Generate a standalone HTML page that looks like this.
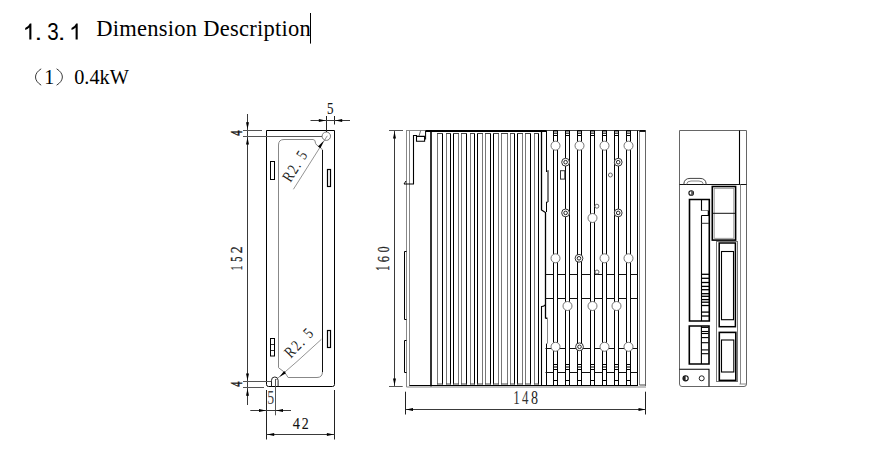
<!DOCTYPE html>
<html><head><meta charset="utf-8"><style>
html,body{margin:0;padding:0;background:#fff;width:869px;height:456px;overflow:hidden}
svg{display:block}
</style></head><body>
<svg width="869" height="456" viewBox="0 0 869 456">
<rect width="869" height="456" fill="#fff"/>
<path d="M266.5,130.5 H334.5 V384.5 Q334.5,386.5 332.5,386.5 H268.5 Q266.5,386.5 266.5,384.5 Z" stroke="#000" stroke-width="1" fill="none"/>
<path d="M278.5,145 Q278.5,139.5 284,139.5 H313.1 Q315.5,139.5 315.5,143.3 Q316,145 319.5,147 Q322.5,148.5 322.5,150.5 V371.5 Q322.5,377.5 317,377.5 H288.1 Q286.5,375 285.5,373.5 L283.5,371.5 L278.5,367.7 Z" stroke="#888" stroke-width="1" fill="none"/>
<line x1="322.5" y1="150" x2="322.5" y2="372" stroke="#111" stroke-width="1"/>
<circle cx="326.3" cy="136.2" r="4.2" stroke="#777" stroke-width="1" fill="#fff"/>
<path d="M271.5,386.5 V380.3 A3.3 3.3 0 0 1 278.1,380.3 V386.5" stroke="#222" stroke-width="1" fill="none"/>
<rect x="270.5" y="161.5" width="4" height="18" stroke="#000" stroke-width="1" fill="none"/>
<rect x="327.5" y="169.5" width="3" height="17" stroke="#000" stroke-width="1.2" fill="none"/>
<rect x="270.5" y="338.5" width="4" height="17.5" stroke="#000" stroke-width="1" fill="none"/>
<line x1="270.5" y1="344.5" x2="274.5" y2="344.5" stroke="#000" stroke-width="0.8"/>
<line x1="270.5" y1="350.5" x2="274.5" y2="350.5" stroke="#000" stroke-width="0.8"/>
<rect x="327.5" y="330.5" width="3" height="17" stroke="#000" stroke-width="1.2" fill="none"/>
<line x1="247.5" y1="114" x2="247.5" y2="405" stroke="#3a3a3a" stroke-width="1"/>
<polygon points="247.50,129.30 246.00,122.30 249.00,122.30" fill="#000"/>
<polygon points="247.50,137.50 249.00,144.50 246.00,144.50" fill="#000"/>
<polygon points="247.50,380.50 246.00,373.50 249.00,373.50" fill="#000"/>
<polygon points="247.50,388.80 249.00,395.80 246.00,395.80" fill="#000"/>
<line x1="243" y1="130.5" x2="262" y2="130.5" stroke="#555" stroke-width="1"/>
<line x1="243" y1="136.5" x2="322" y2="136.5" stroke="#555" stroke-width="1"/>
<line x1="243" y1="381.5" x2="271.3" y2="381.5" stroke="#555" stroke-width="1"/>
<line x1="243" y1="387.5" x2="264" y2="387.5" stroke="#555" stroke-width="1"/>
<line x1="326.5" y1="116" x2="326.5" y2="132" stroke="#222" stroke-width="1"/>
<line x1="334.5" y1="116" x2="334.5" y2="124.5" stroke="#222" stroke-width="1"/>
<line x1="310.5" y1="120.5" x2="350" y2="120.5" stroke="#3a3a3a" stroke-width="1"/>
<polygon points="325.80,120.50 318.80,122.00 318.80,119.00" fill="#000"/>
<polygon points="335.20,120.50 342.20,119.00 342.20,122.00" fill="#000"/>
<line x1="266.5" y1="390" x2="266.5" y2="439.5" stroke="#222" stroke-width="1"/>
<line x1="334.5" y1="390" x2="334.5" y2="439.5" stroke="#222" stroke-width="1"/>
<line x1="275.5" y1="379" x2="275.5" y2="415.3" stroke="#555" stroke-width="1"/>
<line x1="250.3" y1="410.5" x2="291" y2="410.5" stroke="#3a3a3a" stroke-width="1"/>
<polygon points="266.00,410.50 259.00,412.00 259.00,409.00" fill="#000"/>
<polygon points="276.00,410.50 283.00,409.00 283.00,412.00" fill="#000"/>
<line x1="266.6" y1="434.5" x2="334.5" y2="434.5" stroke="#3a3a3a" stroke-width="1"/>
<polygon points="267.20,434.50 274.20,433.00 274.20,436.00" fill="#000"/>
<polygon points="333.90,434.50 326.90,436.00 326.90,433.00" fill="#000"/>
<line x1="327.3" y1="135.8" x2="293.4" y2="189.3" stroke="#666" stroke-width="0.7"/>
<polygon points="323.80,140.70 320.47,148.13 318.00,146.41" fill="#000"/>
<line x1="275.7" y1="380" x2="297" y2="361.5" stroke="#666" stroke-width="0.7"/>
<line x1="297" y1="361.5" x2="321.4" y2="339.3" stroke="#666" stroke-width="0.7"/>
<polygon points="279.30,376.90 284.15,370.99 286.05,373.31" fill="#000"/>
<line x1="394.5" y1="131" x2="394.5" y2="386" stroke="#3a3a3a" stroke-width="1"/>
<polygon points="394.50,131.50 396.00,138.50 393.00,138.50" fill="#000"/>
<polygon points="394.50,385.50 393.00,378.50 396.00,378.50" fill="#000"/>
<line x1="389" y1="130.5" x2="403" y2="130.5" stroke="#555" stroke-width="1"/>
<line x1="389" y1="386.5" x2="402.7" y2="386.5" stroke="#555" stroke-width="1"/>
<line x1="406.5" y1="130.5" x2="406.5" y2="387" stroke="#888" stroke-width="1"/>
<line x1="409.5" y1="130.5" x2="409.5" y2="386" stroke="#888" stroke-width="1"/>
<line x1="406" y1="130.5" x2="425.5" y2="130.5" stroke="#888" stroke-width="1"/>
<line x1="425.5" y1="131" x2="546.5" y2="131" stroke="#000" stroke-width="1.8"/>
<line x1="431" y1="130" x2="431" y2="386.5" stroke="#000" stroke-width="1.6"/>
<line x1="437.5" y1="133" x2="437.5" y2="384.5" stroke="#777" stroke-width="1"/>
<line x1="442.5" y1="133" x2="442.5" y2="384.5" stroke="#000" stroke-width="1"/>
<line x1="437" y1="133.5" x2="443" y2="133.5" stroke="#444" stroke-width="1"/>
<line x1="437" y1="384" x2="443" y2="384" stroke="#444" stroke-width="1"/>
<line x1="446.5" y1="133" x2="446.5" y2="384.5" stroke="#777" stroke-width="1"/>
<line x1="450.5" y1="133" x2="450.5" y2="384.5" stroke="#000" stroke-width="1"/>
<line x1="446" y1="133.5" x2="451" y2="133.5" stroke="#444" stroke-width="1"/>
<line x1="446" y1="384" x2="451" y2="384" stroke="#444" stroke-width="1"/>
<line x1="453.5" y1="133" x2="453.5" y2="384.5" stroke="#000" stroke-width="1"/>
<line x1="458.5" y1="133" x2="458.5" y2="384.5" stroke="#777" stroke-width="1"/>
<line x1="453" y1="133.5" x2="459" y2="133.5" stroke="#444" stroke-width="1"/>
<line x1="453" y1="384" x2="459" y2="384" stroke="#444" stroke-width="1"/>
<line x1="461.5" y1="133" x2="461.5" y2="384.5" stroke="#777" stroke-width="1"/>
<line x1="466.5" y1="133" x2="466.5" y2="384.5" stroke="#000" stroke-width="1"/>
<line x1="461" y1="133.5" x2="467" y2="133.5" stroke="#444" stroke-width="1"/>
<line x1="461" y1="384" x2="467" y2="384" stroke="#444" stroke-width="1"/>
<line x1="470.5" y1="133" x2="470.5" y2="384.5" stroke="#777" stroke-width="1"/>
<line x1="474.5" y1="133" x2="474.5" y2="384.5" stroke="#000" stroke-width="1"/>
<line x1="470" y1="133.5" x2="475" y2="133.5" stroke="#444" stroke-width="1"/>
<line x1="470" y1="384" x2="475" y2="384" stroke="#444" stroke-width="1"/>
<line x1="477.5" y1="133" x2="477.5" y2="384.5" stroke="#000" stroke-width="1"/>
<line x1="482.5" y1="133" x2="482.5" y2="384.5" stroke="#777" stroke-width="1"/>
<line x1="477" y1="133.5" x2="483" y2="133.5" stroke="#444" stroke-width="1"/>
<line x1="477" y1="384" x2="483" y2="384" stroke="#444" stroke-width="1"/>
<line x1="485.5" y1="133" x2="485.5" y2="384.5" stroke="#777" stroke-width="1"/>
<line x1="490.5" y1="133" x2="490.5" y2="384.5" stroke="#000" stroke-width="1"/>
<line x1="485" y1="133.5" x2="491" y2="133.5" stroke="#444" stroke-width="1"/>
<line x1="485" y1="384" x2="491" y2="384" stroke="#444" stroke-width="1"/>
<line x1="493.5" y1="133" x2="493.5" y2="384.5" stroke="#000" stroke-width="1"/>
<line x1="498.5" y1="133" x2="498.5" y2="384.5" stroke="#777" stroke-width="1"/>
<line x1="493" y1="133.5" x2="499" y2="133.5" stroke="#444" stroke-width="1"/>
<line x1="493" y1="384" x2="499" y2="384" stroke="#444" stroke-width="1"/>
<line x1="501.5" y1="133" x2="501.5" y2="384.5" stroke="#777" stroke-width="1"/>
<line x1="507.5" y1="133" x2="507.5" y2="384.5" stroke="#777" stroke-width="1"/>
<line x1="501" y1="133.5" x2="508" y2="133.5" stroke="#444" stroke-width="1"/>
<line x1="501" y1="384" x2="508" y2="384" stroke="#444" stroke-width="1"/>
<line x1="510.5" y1="133" x2="510.5" y2="384.5" stroke="#777" stroke-width="1"/>
<line x1="514.5" y1="133" x2="514.5" y2="384.5" stroke="#000" stroke-width="1"/>
<line x1="510" y1="133.5" x2="515" y2="133.5" stroke="#444" stroke-width="1"/>
<line x1="510" y1="384" x2="515" y2="384" stroke="#444" stroke-width="1"/>
<line x1="517.5" y1="133" x2="517.5" y2="384.5" stroke="#000" stroke-width="1"/>
<line x1="522.5" y1="133" x2="522.5" y2="384.5" stroke="#777" stroke-width="1"/>
<line x1="517" y1="133.5" x2="523" y2="133.5" stroke="#444" stroke-width="1"/>
<line x1="517" y1="384" x2="523" y2="384" stroke="#444" stroke-width="1"/>
<line x1="525.5" y1="133" x2="525.5" y2="384.5" stroke="#777" stroke-width="1"/>
<line x1="530.5" y1="133" x2="530.5" y2="384.5" stroke="#000" stroke-width="1"/>
<line x1="525" y1="133.5" x2="531" y2="133.5" stroke="#444" stroke-width="1"/>
<line x1="525" y1="384" x2="531" y2="384" stroke="#444" stroke-width="1"/>
<line x1="534.5" y1="133" x2="534.5" y2="384.5" stroke="#777" stroke-width="1"/>
<line x1="538.5" y1="133" x2="538.5" y2="384.5" stroke="#000" stroke-width="1"/>
<line x1="534" y1="133.5" x2="539" y2="133.5" stroke="#444" stroke-width="1"/>
<line x1="534" y1="384" x2="539" y2="384" stroke="#444" stroke-width="1"/>
<path d="M541.5,130 V210 L545.5,212.5 V318 L547.5,318.5" stroke="#000" stroke-width="1.3" fill="none"/>
<path d="M545.5,304 Q545.5,306 541.5,306.5 V386" stroke="#000" stroke-width="1.1" fill="none"/>
<line x1="547.5" y1="318.5" x2="547.5" y2="343.6" stroke="#888" stroke-width="1"/>
<path d="M546.5,130 V172 L548,170.5 V202 L546.5,202 V212" stroke="#000" stroke-width="1" fill="none"/>
<line x1="548" y1="171" x2="548" y2="202" stroke="#777" stroke-width="1.2"/>
<line x1="546.5" y1="343.6" x2="546.5" y2="386" stroke="#000" stroke-width="1"/>
<path d="M404,184 H413.5 V135.5 H416.5 V141.2 H424.6 V136.4 H416.5" stroke="#000" stroke-width="1.1" fill="none"/>
<line x1="425.6" y1="130.7" x2="425.6" y2="139.5" stroke="#000" stroke-width="1"/>
<line x1="418.9" y1="136.4" x2="420.6" y2="130.7" stroke="#444" stroke-width="0.8"/>
<path d="M404,184 L406,181" stroke="#000" stroke-width="1" fill="none"/>
<path d="M406.5,251.5 H404.5 V319.5 H406.5" stroke="#000" stroke-width="1" fill="none"/>
<path d="M406.5,340.5 H404.5 V372.5 H406.5" stroke="#000" stroke-width="1" fill="none"/>
<line x1="409.5" y1="385.5" x2="637.5" y2="385.5" stroke="#000" stroke-width="1"/>
<line x1="406.5" y1="387" x2="646" y2="387" stroke="#888" stroke-width="1"/>
<line x1="546.6" y1="130.5" x2="645.5" y2="130.5" stroke="#444" stroke-width="1"/>
<line x1="637.5" y1="130.5" x2="637.5" y2="386" stroke="#000" stroke-width="1"/>
<line x1="639.5" y1="130.5" x2="639.5" y2="385" stroke="#888" stroke-width="1"/>
<line x1="645.5" y1="130.5" x2="645.5" y2="386" stroke="#666" stroke-width="1"/>
<line x1="639.5" y1="385" x2="645.5" y2="385" stroke="#444" stroke-width="1"/>
<line x1="639.5" y1="131" x2="645.5" y2="131" stroke="#000" stroke-width="1.8"/>
<line x1="553.5" y1="130.5" x2="553.5" y2="386" stroke="#000" stroke-width="1"/>
<line x1="557.5" y1="130.5" x2="557.5" y2="386" stroke="#000" stroke-width="1"/>
<line x1="553.5" y1="130.8" x2="557.5" y2="130.8" stroke="#000" stroke-width="1.4"/>
<line x1="553.5" y1="133.2" x2="557.5" y2="133.2" stroke="#000" stroke-width="1"/>
<line x1="553.5" y1="135.5" x2="557.5" y2="135.5" stroke="#000" stroke-width="1"/>
<line x1="553.5" y1="364.5" x2="557.5" y2="364.5" stroke="#000" stroke-width="1"/>
<line x1="553.5" y1="367" x2="557.5" y2="367" stroke="#000" stroke-width="1"/>
<line x1="553.5" y1="369.5" x2="557.5" y2="369.5" stroke="#000" stroke-width="1"/>
<line x1="553.5" y1="380.5" x2="557.5" y2="380.5" stroke="#000" stroke-width="1"/>
<line x1="565.5" y1="130.5" x2="565.5" y2="386" stroke="#000" stroke-width="1"/>
<line x1="569.5" y1="130.5" x2="569.5" y2="386" stroke="#000" stroke-width="1"/>
<line x1="565.5" y1="130.8" x2="569.5" y2="130.8" stroke="#000" stroke-width="1.4"/>
<line x1="565.5" y1="133.2" x2="569.5" y2="133.2" stroke="#000" stroke-width="1"/>
<line x1="565.5" y1="135.5" x2="569.5" y2="135.5" stroke="#000" stroke-width="1"/>
<line x1="565.5" y1="364.5" x2="569.5" y2="364.5" stroke="#000" stroke-width="1"/>
<line x1="565.5" y1="367" x2="569.5" y2="367" stroke="#000" stroke-width="1"/>
<line x1="565.5" y1="369.5" x2="569.5" y2="369.5" stroke="#000" stroke-width="1"/>
<line x1="565.5" y1="380.5" x2="569.5" y2="380.5" stroke="#000" stroke-width="1"/>
<line x1="577.5" y1="130.5" x2="577.5" y2="386" stroke="#000" stroke-width="1"/>
<line x1="581.5" y1="130.5" x2="581.5" y2="386" stroke="#000" stroke-width="1"/>
<line x1="577.5" y1="130.8" x2="581.5" y2="130.8" stroke="#000" stroke-width="1.4"/>
<line x1="577.5" y1="133.2" x2="581.5" y2="133.2" stroke="#000" stroke-width="1"/>
<line x1="577.5" y1="135.5" x2="581.5" y2="135.5" stroke="#000" stroke-width="1"/>
<line x1="577.5" y1="364.5" x2="581.5" y2="364.5" stroke="#000" stroke-width="1"/>
<line x1="577.5" y1="367" x2="581.5" y2="367" stroke="#000" stroke-width="1"/>
<line x1="577.5" y1="369.5" x2="581.5" y2="369.5" stroke="#000" stroke-width="1"/>
<line x1="577.5" y1="380.5" x2="581.5" y2="380.5" stroke="#000" stroke-width="1"/>
<line x1="590.5" y1="130.5" x2="590.5" y2="386" stroke="#000" stroke-width="1"/>
<line x1="594.5" y1="130.5" x2="594.5" y2="386" stroke="#000" stroke-width="1"/>
<line x1="590.5" y1="130.8" x2="594.5" y2="130.8" stroke="#000" stroke-width="1.4"/>
<line x1="590.5" y1="133.2" x2="594.5" y2="133.2" stroke="#000" stroke-width="1"/>
<line x1="590.5" y1="135.5" x2="594.5" y2="135.5" stroke="#000" stroke-width="1"/>
<line x1="590.5" y1="364.5" x2="594.5" y2="364.5" stroke="#000" stroke-width="1"/>
<line x1="590.5" y1="367" x2="594.5" y2="367" stroke="#000" stroke-width="1"/>
<line x1="590.5" y1="369.5" x2="594.5" y2="369.5" stroke="#000" stroke-width="1"/>
<line x1="590.5" y1="380.5" x2="594.5" y2="380.5" stroke="#000" stroke-width="1"/>
<line x1="602.5" y1="130.5" x2="602.5" y2="386" stroke="#000" stroke-width="1"/>
<line x1="606.5" y1="130.5" x2="606.5" y2="386" stroke="#000" stroke-width="1"/>
<line x1="602.5" y1="130.8" x2="606.5" y2="130.8" stroke="#000" stroke-width="1.4"/>
<line x1="602.5" y1="133.2" x2="606.5" y2="133.2" stroke="#000" stroke-width="1"/>
<line x1="602.5" y1="135.5" x2="606.5" y2="135.5" stroke="#000" stroke-width="1"/>
<line x1="602.5" y1="364.5" x2="606.5" y2="364.5" stroke="#000" stroke-width="1"/>
<line x1="602.5" y1="367" x2="606.5" y2="367" stroke="#000" stroke-width="1"/>
<line x1="602.5" y1="369.5" x2="606.5" y2="369.5" stroke="#000" stroke-width="1"/>
<line x1="602.5" y1="380.5" x2="606.5" y2="380.5" stroke="#000" stroke-width="1"/>
<line x1="614.5" y1="130.5" x2="614.5" y2="386" stroke="#000" stroke-width="1"/>
<line x1="618.5" y1="130.5" x2="618.5" y2="386" stroke="#000" stroke-width="1"/>
<line x1="614.5" y1="130.8" x2="618.5" y2="130.8" stroke="#000" stroke-width="1.4"/>
<line x1="614.5" y1="133.2" x2="618.5" y2="133.2" stroke="#000" stroke-width="1"/>
<line x1="614.5" y1="135.5" x2="618.5" y2="135.5" stroke="#000" stroke-width="1"/>
<line x1="614.5" y1="364.5" x2="618.5" y2="364.5" stroke="#000" stroke-width="1"/>
<line x1="614.5" y1="367" x2="618.5" y2="367" stroke="#000" stroke-width="1"/>
<line x1="614.5" y1="369.5" x2="618.5" y2="369.5" stroke="#000" stroke-width="1"/>
<line x1="614.5" y1="380.5" x2="618.5" y2="380.5" stroke="#000" stroke-width="1"/>
<line x1="626.5" y1="130.5" x2="626.5" y2="386" stroke="#000" stroke-width="1"/>
<line x1="630.5" y1="130.5" x2="630.5" y2="386" stroke="#000" stroke-width="1"/>
<line x1="626.5" y1="130.8" x2="630.5" y2="130.8" stroke="#000" stroke-width="1.4"/>
<line x1="626.5" y1="133.2" x2="630.5" y2="133.2" stroke="#000" stroke-width="1"/>
<line x1="626.5" y1="135.5" x2="630.5" y2="135.5" stroke="#000" stroke-width="1"/>
<line x1="626.5" y1="364.5" x2="630.5" y2="364.5" stroke="#000" stroke-width="1"/>
<line x1="626.5" y1="367" x2="630.5" y2="367" stroke="#000" stroke-width="1"/>
<line x1="626.5" y1="369.5" x2="630.5" y2="369.5" stroke="#000" stroke-width="1"/>
<line x1="626.5" y1="380.5" x2="630.5" y2="380.5" stroke="#000" stroke-width="1"/>
<line x1="545.5" y1="274.5" x2="553.5" y2="274.5" stroke="#111" stroke-width="1"/>
<line x1="557.5" y1="274.5" x2="565.5" y2="274.5" stroke="#111" stroke-width="1"/>
<line x1="569.5" y1="274.5" x2="577.5" y2="274.5" stroke="#111" stroke-width="1"/>
<line x1="581.5" y1="274.5" x2="590.5" y2="274.5" stroke="#111" stroke-width="1"/>
<line x1="594.5" y1="274.5" x2="602.5" y2="274.5" stroke="#111" stroke-width="1"/>
<line x1="606.5" y1="274.5" x2="614.5" y2="274.5" stroke="#111" stroke-width="1"/>
<line x1="618.5" y1="274.5" x2="626.5" y2="274.5" stroke="#111" stroke-width="1"/>
<line x1="630.5" y1="274.5" x2="637.5" y2="274.5" stroke="#111" stroke-width="1"/>
<line x1="545.5" y1="298.5" x2="553.5" y2="298.5" stroke="#111" stroke-width="1"/>
<line x1="557.5" y1="298.5" x2="565.5" y2="298.5" stroke="#111" stroke-width="1"/>
<line x1="569.5" y1="298.5" x2="577.5" y2="298.5" stroke="#111" stroke-width="1"/>
<line x1="581.5" y1="298.5" x2="590.5" y2="298.5" stroke="#111" stroke-width="1"/>
<line x1="594.5" y1="298.5" x2="602.5" y2="298.5" stroke="#111" stroke-width="1"/>
<line x1="606.5" y1="298.5" x2="614.5" y2="298.5" stroke="#111" stroke-width="1"/>
<line x1="618.5" y1="298.5" x2="626.5" y2="298.5" stroke="#111" stroke-width="1"/>
<line x1="630.5" y1="298.5" x2="637.5" y2="298.5" stroke="#111" stroke-width="1"/>
<line x1="545.5" y1="348.5" x2="553.5" y2="348.5" stroke="#111" stroke-width="1"/>
<line x1="557.5" y1="348.5" x2="565.5" y2="348.5" stroke="#111" stroke-width="1"/>
<line x1="569.5" y1="348.5" x2="577.5" y2="348.5" stroke="#111" stroke-width="1"/>
<line x1="581.5" y1="348.5" x2="590.5" y2="348.5" stroke="#111" stroke-width="1"/>
<line x1="594.5" y1="348.5" x2="602.5" y2="348.5" stroke="#111" stroke-width="1"/>
<line x1="606.5" y1="348.5" x2="614.5" y2="348.5" stroke="#111" stroke-width="1"/>
<line x1="618.5" y1="348.5" x2="626.5" y2="348.5" stroke="#111" stroke-width="1"/>
<line x1="630.5" y1="348.5" x2="637.5" y2="348.5" stroke="#111" stroke-width="1"/>
<line x1="545.5" y1="372.5" x2="553.5" y2="372.5" stroke="#111" stroke-width="1"/>
<line x1="557.5" y1="372.5" x2="565.5" y2="372.5" stroke="#111" stroke-width="1"/>
<line x1="569.5" y1="372.5" x2="577.5" y2="372.5" stroke="#111" stroke-width="1"/>
<line x1="581.5" y1="372.5" x2="590.5" y2="372.5" stroke="#111" stroke-width="1"/>
<line x1="594.5" y1="372.5" x2="602.5" y2="372.5" stroke="#111" stroke-width="1"/>
<line x1="606.5" y1="372.5" x2="614.5" y2="372.5" stroke="#111" stroke-width="1"/>
<line x1="618.5" y1="372.5" x2="626.5" y2="372.5" stroke="#111" stroke-width="1"/>
<line x1="630.5" y1="372.5" x2="637.5" y2="372.5" stroke="#111" stroke-width="1"/>
<circle cx="555.5" cy="145.7" r="4.5" stroke="#666" stroke-width="0.9" fill="#fff"/>
<circle cx="579.5" cy="145.7" r="4.5" stroke="#666" stroke-width="0.9" fill="#fff"/>
<circle cx="604.5" cy="145.7" r="4.5" stroke="#666" stroke-width="0.9" fill="#fff"/>
<circle cx="628.5" cy="145.7" r="4.5" stroke="#666" stroke-width="0.9" fill="#fff"/>
<circle cx="565.6" cy="162.2" r="3.9" stroke="#333" stroke-width="1" fill="#fff"/>
<circle cx="565.6" cy="162.2" r="1.8" stroke="#222" stroke-width="1" fill="#fff"/>
<circle cx="618.2" cy="162.2" r="3.9" stroke="#333" stroke-width="1" fill="#fff"/>
<circle cx="618.2" cy="162.2" r="1.8" stroke="#222" stroke-width="1" fill="#fff"/>
<circle cx="565.6" cy="212.9" r="3.9" stroke="#333" stroke-width="1" fill="#fff"/>
<circle cx="565.6" cy="212.9" r="1.8" stroke="#222" stroke-width="1" fill="#fff"/>
<circle cx="618.2" cy="212.9" r="3.9" stroke="#333" stroke-width="1" fill="#fff"/>
<circle cx="618.2" cy="212.9" r="1.8" stroke="#222" stroke-width="1" fill="#fff"/>
<circle cx="592.5" cy="218" r="4.5" stroke="#666" stroke-width="0.9" fill="#fff"/>
<circle cx="610.4" cy="175" r="2" stroke="#555" stroke-width="0.9" fill="#fff"/>
<circle cx="596.9" cy="206.2" r="2" stroke="#555" stroke-width="0.9" fill="#fff"/>
<rect x="560.5" y="170.7" width="4.3" height="8.4" stroke="#333" stroke-width="1" fill="none"/>
<circle cx="555.5" cy="258.3" r="4.5" stroke="#666" stroke-width="0.9" fill="#fff"/>
<circle cx="604.5" cy="258.3" r="4.5" stroke="#666" stroke-width="0.9" fill="#fff"/>
<circle cx="628.5" cy="258.3" r="4.5" stroke="#666" stroke-width="0.9" fill="#fff"/>
<circle cx="579" cy="258.3" r="3.9" stroke="#333" stroke-width="1" fill="#fff"/>
<circle cx="579" cy="258.3" r="1.8" stroke="#222" stroke-width="1" fill="#fff"/>
<circle cx="597" cy="272" r="2" stroke="#555" stroke-width="0.9" fill="#fff"/>
<circle cx="567.5" cy="306" r="4.5" stroke="#666" stroke-width="0.9" fill="#fff"/>
<circle cx="592.5" cy="306" r="4.5" stroke="#666" stroke-width="0.9" fill="#fff"/>
<circle cx="616.5" cy="306" r="4.5" stroke="#666" stroke-width="0.9" fill="#fff"/>
<circle cx="555.5" cy="346.8" r="4.5" stroke="#666" stroke-width="0.9" fill="#fff"/>
<circle cx="604.5" cy="346.8" r="4.5" stroke="#666" stroke-width="0.9" fill="#fff"/>
<circle cx="628.5" cy="346.8" r="4.5" stroke="#666" stroke-width="0.9" fill="#fff"/>
<circle cx="579.5" cy="346.8" r="3.9" stroke="#333" stroke-width="1" fill="#fff"/>
<circle cx="579.5" cy="346.8" r="1.8" stroke="#222" stroke-width="1" fill="#fff"/>
<line x1="405.5" y1="391.7" x2="405.5" y2="414.5" stroke="#222" stroke-width="1"/>
<line x1="645.5" y1="391.7" x2="645.5" y2="414.5" stroke="#222" stroke-width="1"/>
<line x1="406" y1="409.5" x2="645.5" y2="409.5" stroke="#3a3a3a" stroke-width="1"/>
<polygon points="406.00,409.50 413.00,408.00 413.00,411.00" fill="#000"/>
<polygon points="645.50,409.50 638.50,411.00 638.50,408.00" fill="#000"/>
<path d="M679.5,130.5 H746.5 V384 Q746.5,386.5 744,386.5 H682 Q679.5,386.5 679.5,384 Z" stroke="#666" stroke-width="1" fill="none"/>
<line x1="739.5" y1="130.5" x2="739.5" y2="184.5" stroke="#000" stroke-width="1.1"/>
<line x1="679.5" y1="184.5" x2="746.5" y2="184.5" stroke="#111" stroke-width="1.1"/>
<line x1="740.5" y1="184.5" x2="740.5" y2="384" stroke="#888" stroke-width="1"/>
<line x1="739.5" y1="384" x2="746.5" y2="384" stroke="#888" stroke-width="1"/>
<path d="M683.8,184.4 Q684,178.4 690,178.4 H700 Q706,178.4 706.2,184.4" stroke="#444" stroke-width="1" fill="none"/>
<path d="M686.5,184.4 Q687,181 691,181 H699 Q703,181 703.5,184.4" stroke="#666" stroke-width="0.8" fill="none"/>
<circle cx="691.2" cy="193" r="2.3" stroke="#111" stroke-width="1.1" fill="#fff"/>
<path d="M691.2,190.7 A2.3 2.3 0 0 1 691.2,195.3 Z" stroke="#000" stroke-width="0" fill="#555"/>
<rect x="712.3" y="186.5" width="23.3" height="53.6" stroke="#000" stroke-width="1.6" fill="none"/>
<rect x="714.2" y="188.3" width="19.6" height="50" stroke="#888" stroke-width="0.8" fill="none"/>
<line x1="713" y1="213.3" x2="735" y2="213.3" stroke="#111" stroke-width="1"/>
<path d="M689.5,321 V199.5 H709.3 V321 Z" stroke="#000" stroke-width="1.6" fill="none"/>
<path d="M701.5,199.5 V210.5 H709 M701.5,215.5 H709 M701.5,215.5 V321" stroke="#000" stroke-width="1.1" fill="none"/>
<line x1="701.5" y1="210.5" x2="709" y2="210.5" stroke="#888" stroke-width="1"/>
<line x1="708.5" y1="210.5" x2="708.5" y2="215.5" stroke="#000" stroke-width="1.5"/>
<line x1="701.5" y1="223.3" x2="709" y2="223.3" stroke="#333" stroke-width="1"/>
<line x1="701.5" y1="274.3" x2="709" y2="274.3" stroke="#000" stroke-width="1.3"/>
<line x1="701.5" y1="278.3" x2="709" y2="278.3" stroke="#000" stroke-width="1.3"/>
<line x1="701.5" y1="282.5" x2="709" y2="282.5" stroke="#000" stroke-width="1.3"/>
<line x1="701.5" y1="286.4" x2="709" y2="286.4" stroke="#000" stroke-width="1.3"/>
<line x1="701.5" y1="289.7" x2="709" y2="289.7" stroke="#000" stroke-width="1.3"/>
<line x1="701.5" y1="293.7" x2="709" y2="293.7" stroke="#000" stroke-width="1.3"/>
<line x1="701.5" y1="296.3" x2="709" y2="296.3" stroke="#000" stroke-width="1.3"/>
<line x1="701.5" y1="299.6" x2="709" y2="299.6" stroke="#000" stroke-width="1.3"/>
<line x1="701.5" y1="302.2" x2="709" y2="302.2" stroke="#000" stroke-width="1.3"/>
<line x1="701.5" y1="305.5" x2="709" y2="305.5" stroke="#000" stroke-width="1.3"/>
<line x1="701.5" y1="312.1" x2="709" y2="312.1" stroke="#000" stroke-width="1.3"/>
<line x1="701.5" y1="316" x2="709" y2="316" stroke="#000" stroke-width="1.3"/>
<path d="M689.3,326 H709 V364 H689.3 Z" stroke="#000" stroke-width="1.6" fill="none"/>
<line x1="701.4" y1="326" x2="701.4" y2="364" stroke="#000" stroke-width="1.1"/>
<line x1="701.4" y1="327.4" x2="708.5" y2="327.4" stroke="#000" stroke-width="1.1"/>
<line x1="701.4" y1="331.5" x2="708.5" y2="331.5" stroke="#000" stroke-width="1.1"/>
<line x1="701.4" y1="333.5" x2="708.5" y2="333.5" stroke="#000" stroke-width="1.1"/>
<line x1="701.4" y1="337.6" x2="708.5" y2="337.6" stroke="#000" stroke-width="1.1"/>
<line x1="701.4" y1="342.7" x2="708.5" y2="342.7" stroke="#000" stroke-width="1.1"/>
<line x1="701.4" y1="349.9" x2="708.5" y2="349.9" stroke="#000" stroke-width="1.1"/>
<line x1="701.4" y1="353.7" x2="708.5" y2="353.7" stroke="#000" stroke-width="1.1"/>
<path d="M679.5,369.3 H709 V386.5" stroke="#000" stroke-width="1.1" fill="none"/>
<circle cx="685.6" cy="378.3" r="2.6" stroke="#111" stroke-width="1.1" fill="#fff"/>
<path d="M685.6,375.7 A2.6 2.6 0 0 0 685.6,380.9 Z" stroke="#000" stroke-width="0" fill="#222"/>
<circle cx="701.7" cy="378.3" r="2.5" stroke="#222" stroke-width="1" fill="#fff"/>
<rect x="716.5" y="241.5" width="21" height="140" stroke="#777" stroke-width="1" fill="none"/>
<rect x="719.2" y="243" width="16.2" height="83.7" stroke="#000" stroke-width="1.5" fill="none"/>
<rect x="721.5" y="251.5" width="12" height="68.2" stroke="#000" stroke-width="1.1" fill="none"/>
<rect x="719.3" y="332.4" width="16.5" height="48" stroke="#000" stroke-width="1.6" fill="none"/>
<rect x="721.5" y="340" width="12.3" height="32" stroke="#000" stroke-width="1.1" fill="none"/>
<path d="M31.4,39.6 V23.5 H29.9 Q28.4,26.7 25.2,28.0 V29.9 Q27.799999999999997,29.1 29.299999999999997,27.4 V39.6 Z" fill="#000"/>
<text transform="translate(34.380,39.600) scale(0.28000,0.22727)" font-family="Liberation Sans" font-size="100" fill="#000" stroke="#000" stroke-width="0" vector-effect="non-scaling-stroke">.</text>
<text transform="translate(47.182,39.569) scale(0.20612,0.23099)" font-family="Liberation Sans" font-size="100" fill="#000" stroke="#000" stroke-width="0" vector-effect="non-scaling-stroke">3</text>
<text transform="translate(57.680,39.600) scale(0.28000,0.22727)" font-family="Liberation Sans" font-size="100" fill="#000" stroke="#000" stroke-width="0" vector-effect="non-scaling-stroke">.</text>
<path d="M77.7,39.6 V23.5 H76.2 Q74.7,26.7 71.5,28.0 V29.9 Q74.10000000000001,29.1 75.60000000000001,27.4 V39.6 Z" fill="#000"/>
<text transform="translate(96.2,35.9)" font-family="Liberation Serif" font-size="22.5" fill="#000" text-anchor="start" letter-spacing="0.26">Dimension Description</text>
<line x1="310.5" y1="13" x2="310.5" y2="43.6" stroke="#000" stroke-width="1"/>
<path d="M41.2,68.8 C33.6,73.5 33.6,80.5 41.2,85.2" stroke="#222" stroke-width="0.9" fill="none"/>
<path d="M56.6,68.8 C64.3,73.5 64.3,80.5 56.6,85.2" stroke="#222" stroke-width="0.9" fill="none"/>
<text transform="translate(44.3,84)" font-family="Liberation Serif" font-size="20" fill="#000" text-anchor="start" >1</text>
<text transform="translate(74.2,83.8)" font-family="Liberation Serif" font-size="20.3" fill="#000" text-anchor="start" >0.4kW</text>
<text transform="translate(241.632,135.806) rotate(-90) scale(0.10625,0.16818)" font-family="Liberation Serif" font-size="100" fill="#111" stroke="#111" stroke-width="0.35" vector-effect="non-scaling-stroke">4</text>
<text transform="translate(242.031,253.146) rotate(-90) scale(0.13659,0.16866)" font-family="Liberation Serif" font-size="100" fill="#222" stroke="#222" stroke-width="0.25" vector-effect="non-scaling-stroke">2</text>
<text transform="translate(241.863,261.812) rotate(-90) scale(0.10238,0.16866)" font-family="Liberation Serif" font-size="100" fill="#222" stroke="#222" stroke-width="0.25" vector-effect="non-scaling-stroke">5</text>
<text transform="translate(242.200,270.311) rotate(-90) scale(0.08889,0.17121)" font-family="Liberation Serif" font-size="100" fill="#222" stroke="#222" stroke-width="0.25" vector-effect="non-scaling-stroke">1</text>
<text transform="translate(241.535,386.704) rotate(-90) scale(0.10417,0.16515)" font-family="Liberation Serif" font-size="100" fill="#111" stroke="#111" stroke-width="0.35" vector-effect="non-scaling-stroke">4</text>
<text transform="translate(327.045,114.466) scale(0.13095,0.16716)" font-family="Liberation Serif" font-size="100" fill="#111" stroke="#111" stroke-width="0.1" vector-effect="non-scaling-stroke">5</text>
<text transform="translate(267.310,404.333) scale(0.13810,0.18358)" font-family="Liberation Serif" font-size="100" fill="#444" stroke="#444" stroke-width="0" vector-effect="non-scaling-stroke">5</text>
<text transform="translate(292.756,428.526) scale(0.14375,0.17424)" font-family="Liberation Serif" font-size="100" fill="#111" stroke="#111" stroke-width="0.1" vector-effect="non-scaling-stroke">4</text>
<text transform="translate(301.744,428.528) scale(0.13902,0.17164)" font-family="Liberation Serif" font-size="100" fill="#111" stroke="#111" stroke-width="0.1" vector-effect="non-scaling-stroke">2</text>
<text transform="translate(388.650,252.148) rotate(-90) scale(0.11591,0.17500)" font-family="Liberation Serif" font-size="100" fill="#222" stroke="#222" stroke-width="0.25" vector-effect="non-scaling-stroke">0</text>
<text transform="translate(388.650,262.200) rotate(-90) scale(0.12500,0.17500)" font-family="Liberation Serif" font-size="100" fill="#222" stroke="#222" stroke-width="0.25" vector-effect="non-scaling-stroke">6</text>
<text transform="translate(389.000,270.800) rotate(-90) scale(0.10000,0.18030)" font-family="Liberation Serif" font-size="100" fill="#222" stroke="#222" stroke-width="0.25" vector-effect="non-scaling-stroke">1</text>
<text transform="translate(513.156,403.900) scale(0.13056,0.19697)" font-family="Liberation Serif" font-size="100" fill="#333" stroke="#333" stroke-width="0" vector-effect="non-scaling-stroke">1</text>
<text transform="translate(522.071,403.703) scale(0.12917,0.19697)" font-family="Liberation Serif" font-size="100" fill="#333" stroke="#333" stroke-width="0" vector-effect="non-scaling-stroke">4</text>
<text transform="translate(530.877,403.518) scale(0.14091,0.19118)" font-family="Liberation Serif" font-size="100" fill="#222" stroke="#222" stroke-width="0" vector-effect="non-scaling-stroke">8</text>
<text transform="translate(290.5,183) rotate(-58) scale(0.8,1)" font-family="Liberation Serif" font-size="16" fill="#222" text-anchor="start" letter-spacing="1.6">R2. 5</text>
<text transform="translate(290.8,358.8) rotate(-46) scale(0.8,1)" font-family="Liberation Serif" font-size="16" fill="#222" text-anchor="start" letter-spacing="1.9">R2. 5</text>
</svg>
</body></html>
